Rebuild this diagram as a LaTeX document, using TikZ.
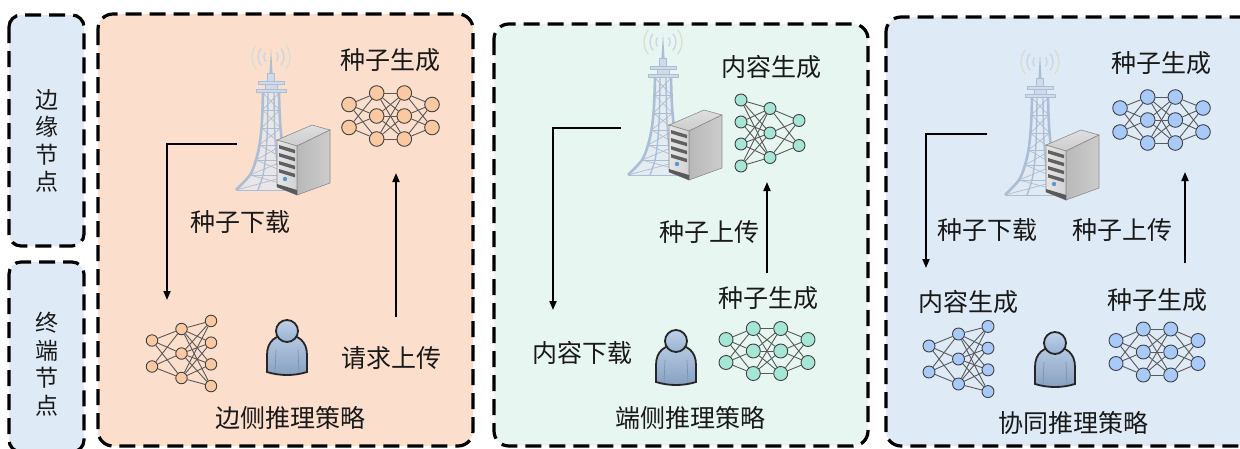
\documentclass[tikz,border=0pt]{standalone}
\usepackage{xcolor}
\usepackage{fontspec}
\newfontfamily\cjk{Noto Sans CJK SC}
\usepackage{tikz}
\usetikzlibrary{arrows.meta}

\definecolor{sidefill}{RGB}{222,235,247}
\definecolor{peachbg}{RGB}{252,222,205}
\definecolor{peachnode}{RGB}{250,201,162}
\definecolor{mintbg}{RGB}{232,246,241}
\definecolor{mintnode}{RGB}{166,230,214}
\definecolor{bluebg}{RGB}{222,234,246}
\definecolor{bluenode}{RGB}{168,202,250}
\definecolor{towerc}{RGB}{172,190,213}
\definecolor{towerlight}{RGB}{208,219,233}
\definecolor{wavein}{RGB}{200,214,226}
\definecolor{waveout}{RGB}{218,222,205}
\definecolor{userfill}{RGB}{150,178,214}

% fully connected layers: name, centre, fill, size, {x/count/gap,...}
\newcommand{\mlp}[5]{%
  \begin{scope}[shift={#2}]
    \foreach \lx/\ln/\lg [count=\k, remember=\ln as \pn (initially 0)] in {#5}{
      \foreach \i in {1,...,\ln}
        \node[neuron, fill=#3, minimum size=#4] (#1-\k-\i) at (\lx, {(\i-(\ln+1)/2)*\lg}) {};
      \ifnum\k>1
        \pgfmathtruncatemacro\pk{\k-1}
        \foreach \i in {1,...,\ln}
          \foreach \j in {1,...,\pn}
            \draw[synapse] (#1-\pk-\j) -- (#1-\k-\i);
      \fi
    }
  \end{scope}}

\tikzset{
  % base station: lattice tower with a server beside it
  station/.pic={
    \foreach \r/\c in {7/wavein, 13/wavein, 19/waveout}{
      \draw[draw=\c, line width=1.3pt] ([shift={(140:\r)}]0,-133) arc[start angle=140, end angle=220, radius=\r];
      \draw[draw=\c, line width=1.3pt] ([shift={(-40:\r)}]0,-133) arc[start angle=-40, end angle=40, radius=\r];
    }
    \fill[towerlight!60, opacity=0.7] plot[smooth] coordinates {(-8,-97) (-8.5,-80) (-9.5,-62) (-11.5,-45) (-15,-30) (-21,-15) (-35,0)}
      -- plot[smooth] coordinates {(35,0) (21,-15) (15,-30) (11.5,-45) (9.5,-62) (8.5,-80) (8,-97)} -- cycle;
    \fill[towerc] (0,-141) -- (1.6,-117) -- (-1.6,-117) -- cycle;
    \filldraw[fill=towerlight, draw=towerc, line width=0.8pt] (-3.5,-117) rectangle (3.5,-109);
    \filldraw[fill=towerlight, draw=towerc, line width=0.8pt] (-13,-109) rectangle (13,-106);
    \filldraw[fill=towerlight, draw=towerc, line width=0.8pt] (-6,-106) rectangle (6,-101);
    \filldraw[fill=towerlight, draw=towerc, line width=0.8pt] (-15,-101) rectangle (15,-97.5);
    % legs
    \draw[towerc, line width=2.6pt] plot[smooth] coordinates {(-8,-97) (-8.5,-80) (-9.5,-62) (-11.5,-45) (-15,-30) (-21,-15) (-35,0)};
    \draw[towerc, line width=2.6pt] plot[smooth] coordinates {(8,-97) (8.5,-80) (9.5,-62) (11.5,-45) (15,-30) (21,-15) (35,0)};
    \draw[towerc, line width=1.4pt] plot[smooth] coordinates {(-3,-97) (-3.2,-80) (-3.6,-62) (-4.4,-45) (-5.7,-30) (-8,-15) (-13,0)};
    \draw[towerc, line width=1.4pt] plot[smooth] coordinates {(3,-97) (3.2,-80) (3.6,-62) (4.4,-45) (5.7,-30) (8,-15) (13,0)};
    % bracing
    \foreach \ya/\xa/\yb/\xb in {-97/8/-80/8.5, -80/8.5/-62/9.5, -62/9.5/-45/11.5, -45/11.5/-30/15, -30/15/-15/21, -15/21/0/35}{
      \draw[towerc, line width=0.7pt] (-\xa,\ya) -- (\xb,\yb);
      \draw[towerc, line width=0.7pt] (\xa,\ya) -- (-\xb,\yb);
      \draw[towerc, line width=0.9pt] (-\xb,\yb) -- (\xb,\yb);
    }
    % server
    \draw[black!45, line width=0.6pt, top color=gray!25, bottom color=gray!40] (6,-50) -- (26,-44) -- (59,-60) -- (41,-65) -- cycle;
    \draw[black!45, line width=0.6pt, left color=gray!55, right color=gray!40] (26,-44) -- (59,-60) -- (59,-7) -- (26,5) -- cycle;
    \draw[black!45, line width=0.6pt, left color=gray!20, right color=gray!35] (6,-50) -- (26,-44) -- (26,5) -- (6,-3) -- cycle;
    \foreach \s in {-45,-37,-29,-21}
      \fill[gray!75!black] (8,\s) -- (24,\s+4.8) -- (24,\s+8.3) -- (8,\s+3.5) -- cycle;
    \fill[gray!70!black] (6,-6) -- (26,0) -- (26,5) -- (6,-3) -- cycle;
    \fill[cyan!60!blue!70] (14,-11) circle (2.2);
  },
  % terminal user
  user/.pic={
    \draw[black!85, line width=1.8pt, top color=userfill!70, bottom color=userfill!90!black]
      (-20,41) -- (-20,24) .. controls (-20,10) and (-11,4) .. (0,4)
      .. controls (11,4) and (20,10) .. (20,24) -- (20,41)
      .. controls (7,45) and (-7,45) .. (-20,41) -- cycle;
    \draw[userfill!80!black, line width=0.6pt] (-11,19) .. controls (-12,30) .. (-12,42);
    \draw[userfill!80!black, line width=0.6pt] (11,19) .. controls (12,30) .. (12,42);
    \draw[black!85, line width=1.8pt, top color=userfill!60, bottom color=userfill] (0,0) circle (11);
  }
}

\begin{document}
\begin{tikzpicture}[
    x=1pt, y=-1pt,
    every node/.style={font=\cjk\fontsize{25}{30}\selectfont, text=black!90, inner sep=0pt},
    panel/.style={draw=black, line width=3.2pt, dash pattern=on 16pt off 8pt, rounded corners=15pt},
    sidebox/.style={panel, rounded corners=12pt, fill=sidefill},
    side label/.style={align=center, font=\cjk\fontsize{23}{27.5}\selectfont},
    neuron/.style={circle, draw=black!75, line width=0.9pt, inner sep=0pt},
    synapse/.style={draw=black!65, line width=0.9pt},
    flow/.style={line width=1.8pt, -{Triangle[length=9pt, width=7pt]}}
  ]

  \useasboundingbox (0,0) rectangle (1240,448);
  \clip (0,0) rectangle (1240,448);
  \fill[white] (0,0) rectangle (1240,448);

  % Node types
  \draw[sidebox] (9,15) rectangle (84,246);
  \node[side label] (edgelbl) at (47,141) {边\\缘\\节\\点};
  \draw[sidebox] (9,262) rectangle (84,452);
  \node[side label] (termlbl) at (47,364) {终\\端\\节\\点};

  % Edge-side inference
  \draw[panel, fill=peachbg] (98,14) rectangle (473,446);
  \pic (bs1) at (271,190) {station};
  \node (gen1) at (390,60) {种子生成};
  \mlp{n1}{(390.5,116)}{peachnode}{14.6pt}{-41.5/2/23, -13.8/3/23, 13.8/3/23, 41.5/2/23}
  \coordinate (dl1a) at (237,144);
  \coordinate (dl1b) at (167,300);
  \draw[flow] (dl1a) -| (dl1b);
  \node (dl1) at (240,222) {种子下载};
  \mlp{n2}{(181.5,353.5)}{peachnode}{11.5pt}{-29.5/2/26, 0/3/24.5, 29.5/4/21.7}
  \pic (u1) at (287,331) {user};
  \coordinate (up1a) at (396,317);
  \coordinate (up1b) at (396,173);
  \draw[flow] (up1a) -- (up1b);
  \node (req1) at (391,358) {请求上传};
  \node (cap1) at (290,418) {边侧推理策略};

  % Device-side inference
  \draw[panel, fill=mintbg] (494,24) rectangle (868,446);
  \pic (bs2) at (663,175) {station};
  \node (gen2) at (771,67) {内容生成};
  \mlp{n3}{(770,133)}{mintnode}{12pt}{-29/4/22, 0/3/24.5, 29/2/25}
  \coordinate (dl2a) at (621,128);
  \coordinate (dl2b) at (553,310);
  \draw[flow] (dl2a) -| (dl2b);
  \node (dl2) at (582,353) {内容下载};
  \pic (u2) at (676,341) {user};
  \node (seed2) at (768,298) {种子生成};
  \mlp{n4}{(767,351)}{mintnode}{14pt}{-41/2/23, -13.7/3/22.5, 13.7/3/22.5, 41/2/23}
  \coordinate (up2a) at (767,273);
  \coordinate (up2b) at (767,182);
  \draw[flow] (up2a) -- (up2b);
  \node (up2) at (709,232) {种子上传};
  \node (cap2) at (690,418) {端侧推理策略};

  % Collaborative inference
  \draw[panel, fill=bluebg] (886,17) rectangle (1254,446);
  \pic (bs3) at (1040,195) {station};
  \node (gen3) at (1161,63) {种子生成};
  \mlp{n5}{(1161.5,120)}{bluenode}{14.6pt}{-41.5/2/24, -13.8/3/23, 13.8/3/23, 41.5/2/24}
  \coordinate (dl3a) at (987,134);
  \coordinate (dl3b) at (926,268);
  \draw[flow] (dl3a) -| (dl3b);
  \node (dl3) at (987,230) {种子下载};
  \coordinate (up3a) at (1185,263);
  \coordinate (up3b) at (1185,172);
  \draw[flow] (up3a) -- (up3b);
  \node (up3) at (1122,230) {种子上传};
  \node (gen3b) at (968,302) {内容生成};
  \mlp{n6}{(958.5,359)}{bluenode}{12pt}{-29.5/2/26, 0/3/25, 29.5/4/21.7}
  \pic (u3) at (1055,343) {user};
  \node (seed3) at (1157,300) {种子生成};
  \mlp{n7}{(1157,352)}{bluenode}{14pt}{-41/2/23, -13.7/3/23, 13.7/3/23, 41/2/23}
  \node (cap3) at (1073,423) {协同推理策略};

\end{tikzpicture}
\end{document}
